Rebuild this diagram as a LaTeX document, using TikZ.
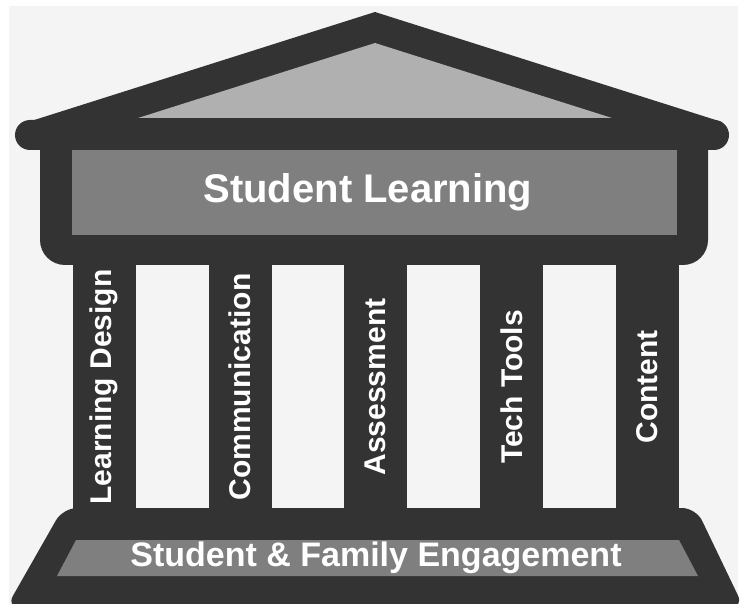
\documentclass[tikz,border=0pt]{standalone}
\usepackage{fontspec}
\setmainfont{Liberation Sans}
\definecolor{stone}{HTML}{333333}
\definecolor{panel}{HTML}{7F7F7F}
\definecolor{gable}{HTML}{B0B0B0}
\definecolor{backdrop}{HTML}{F4F4F4}

\begin{document}
\begin{tikzpicture}[x=1pt,y=-1pt,
    pillar/.style={fill=stone,text=white,rotate=90,inner sep=0pt,
      minimum width=258pt,minimum height=63pt,
      font=\fontsize{30}{36}\selectfont\bfseries},
    banner/.style={text=white,inner sep=0pt,anchor=base}]
    \useasboundingbox (0,0) rectangle (742,604);
    \fill[backdrop] (9,6) rectangle (738,604);
    % roof
    \fill[stone] (375,12) -- (722,122) -- (722,135) -- (28,135) -- (28,122) -- cycle;
    \fill[gable] (375,43) -- (612,118) -- (138,118) -- cycle;
    \fill[stone,rounded corners=15pt] (15,120) rectangle (729,150);
    % entablature
    \fill[stone,rounded corners=25pt] (40,125) rectangle (708,265);
    \fill[panel] (72,150) rectangle (677,235);
    \node[banner,font=\fontsize{40}{48}\selectfont\bfseries] (top) at (368,203) {Student Learning};
    % columns
    \foreach \x/\name/\txt in {104/ld/Learning Design,240/com/Communication,
        375.5/asm/Assessment,511.5/tech/Tech Tools,647/cont/Content}
      \node[pillar] (\name) at (\x,387) {\txt};
    % base
    \fill[stone,rounded corners=14pt] (63,508) -- (696,508) -- (744,608) -- (6,608) -- cycle;
    \fill[panel] (76,540) -- (679,540) -- (698,576) -- (57,576) -- cycle;
    \node[banner,font=\fontsize{34}{40}\selectfont\bfseries] (base) at (376,566) {Student \& Family Engagement};
\end{tikzpicture}
\end{document}
